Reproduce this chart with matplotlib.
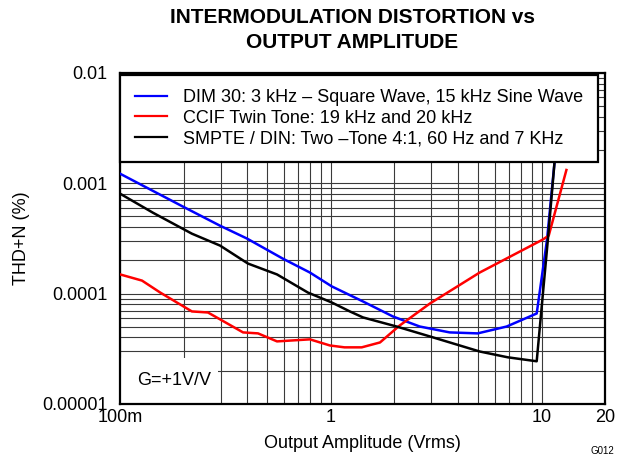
import matplotlib
matplotlib.use("Agg")
import matplotlib.pyplot as plt
from matplotlib.patches import Rectangle

plt.rcParams['font.family'] = ['Liberation Sans', 'DejaVu Sans']

# DIM 30: 3 kHz square + 15 kHz sine
dim_x = [0.1, 0.199, 0.298, 0.40, 0.592, 0.795, 1.01, 1.42, 1.97, 2.64, 3.66, 4.97, 6.82, 9.47, 10.6, 11.5, 12.3]
dim_y = [0.00122, 0.000613, 0.000412, 0.000315, 0.000207, 0.000155, 0.000116, 8.47e-5, 6.19e-5,
         5.02e-5, 4.44e-5, 4.35e-5, 5.02e-5, 6.59e-5, 0.000308, 0.00153, 0.0057]

# CCIF twin tone 19 kHz / 20 kHz
ccif_x = [0.1, 0.127, 0.155, 0.219, 0.261, 0.383, 0.451, 0.555, 0.795, 0.989, 1.16, 1.40, 1.71,
          2.12, 2.95, 5.08, 10.1, 10.8, 13.1]
ccif_y = [0.000149, 0.000131, 0.000102, 6.88e-5, 6.73e-5, 4.44e-5, 4.35e-5, 3.68e-5, 3.84e-5,
          3.38e-5, 3.25e-5, 3.25e-5, 3.60e-5, 5.13e-5, 8.12e-5, 0.000155, 0.000308, 0.000335, 0.00132]

# SMPTE / DIN 4:1, 60 Hz and 7 kHz
smpte_x = [0.1, 0.143, 0.219, 0.298, 0.404, 0.555, 0.778, 1.01, 1.23, 1.42, 2.05, 2.95, 5.08,
           6.90, 9.47, 10.7, 11.5, 12.3]
smpte_y = [0.000804, 0.000541, 0.000349, 0.000272, 0.000187, 0.000149, 0.000102, 8.29e-5, 6.88e-5,
           6.07e-5, 5.02e-5, 4.08e-5, 2.98e-5, 2.64e-5, 2.43e-5, 0.000308, 0.00153, 0.0057]

labels = ["DIM 30: 3 kHz \u2013 Square Wave, 15 kHz Sine Wave",
          "CCIF Twin Tone: 19 kHz and 20 kHz",
          "SMPTE / DIN: Two \u2013Tone 4:1, 60 Hz and 7 KHz"]

xticks = [0.1, 1, 10, 20]
xticklabels = ["100m", "1", "10", "20"]
yticks = [1e-5, 1e-4, 1e-3, 1e-2]
yticklabels = ["0.00001", "0.0001", "0.001", "0.01"]

fig = plt.figure(figsize=(6.39, 4.62), dpi=100)
ax = fig.add_axes([0.188, 0.126, 0.759, 0.716])

ax.plot(dim_x, dim_y, color="#0000ff", lw=1.8, label=labels[0], zorder=3)
ax.plot(ccif_x, ccif_y, color="#ff0000", lw=1.8, label=labels[1], zorder=3)
ax.plot(smpte_x, smpte_y, color="black", lw=1.8, label=labels[2], zorder=3)

ax.set_xscale("log")
ax.set_yscale("log")
ax.set_xlim(0.1, 20)
ax.set_ylim(1e-5, 1e-2)

ax.grid(True, which="both", color="#3a3a3a", lw=0.8, zorder=1)
ax.set_axisbelow(True)
ax.set_xticks(xticks)
ax.set_xticklabels(xticklabels)
ax.set_yticks(yticks)
ax.set_yticklabels(yticklabels)
ax.tick_params(which="both", length=0, labelsize=13)
ax.tick_params(axis="y", pad=9)
ax.tick_params(axis="x", pad=4)
for s in ax.spines.values():
    s.set_linewidth(1.6)

ax.set_xlabel("Output Amplitude (Vrms)", fontsize=13, labelpad=6)
ax.set_ylabel("THD+N (%)", fontsize=13, labelpad=9)

# gain note box
ax.add_patch(Rectangle((0, 0), 0.202, 0.139, transform=ax.transAxes,
                       facecolor="white", edgecolor="none", zorder=2))
ax.text(0.035, 0.07, "G=+1V/V", transform=ax.transAxes, fontsize=13,
        va="center", ha="left", zorder=4)

leg = ax.legend(loc="upper left", bbox_to_anchor=(0, 0.995), borderaxespad=0,
                fontsize=13, frameon=True, fancybox=False, handlelength=1.8,
                handletextpad=0.9, labelspacing=0.2, borderpad=0.8)
leg.get_frame().set_edgecolor("black")
leg.get_frame().set_linewidth(1.6)
leg.get_frame().set_alpha(1)
for h in leg.get_lines():
    h.set_linewidth(1.6)
leg.set_zorder(5)

fig.text(0.551, 0.935, "INTERMODULATION DISTORTION vs\nOUTPUT AMPLITUDE",
         ha="center", va="center", fontsize=15, fontweight="bold",
         family=["Liberation Sans Narrow", "Liberation Sans"], linespacing=1.35)
fig.text(0.942, 0.023, "G012", fontsize=7, ha="center", va="center")

fig.savefig("out.png", dpi=100)
